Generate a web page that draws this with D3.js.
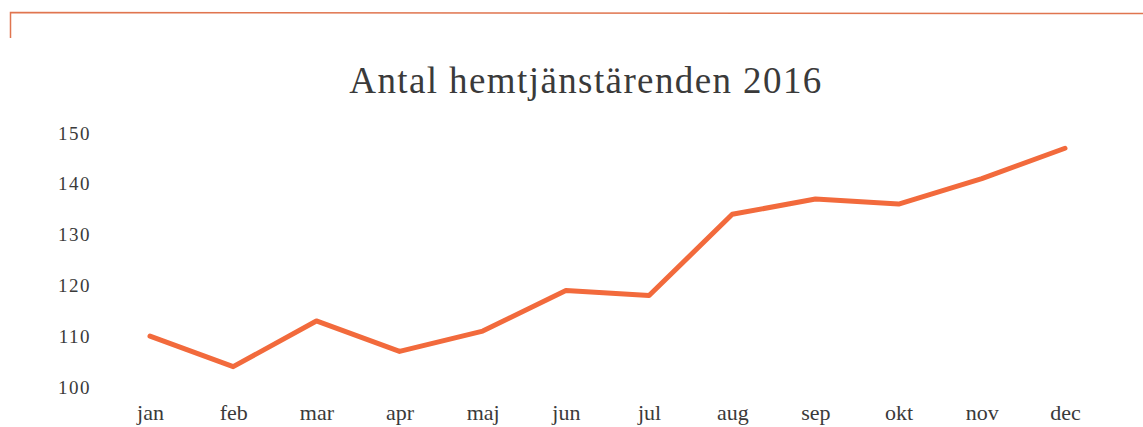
<!DOCTYPE html>
<html><head><meta charset="utf-8">
<script src="https://cdn.jsdelivr.net/npm/d3@7"></script>
<style>body{margin:0;background:#fff}svg{display:block}</style>
</head><body>
<svg id="c" width="1143" height="427"></svg>
<script>
const months = ["jan","feb","mar","apr","maj","jun","jul","aug","sep","okt","nov","dec"];
const values = [110,104,113,107,111,119,118,134,137,136,141,147];
const yTicks = [100,110,120,130,140,150];
const title = "Antal hemtjänstärenden 2016";

const svg = d3.select("#c");
const font = "'Liberation Serif', 'DejaVu Serif', serif";

// frame lines
svg.append("path").attr("d","M10.5,38 L10.5,12.5 L1143,13.5")
  .attr("fill","none").attr("stroke","#e0754f").attr("stroke-width",1.5);

const x = d3.scalePoint().domain(months).range([150,1065]);
const y = d3.scaleLinear().domain([100,150]).range([387,133]);

svg.append("text").attr("x",586).attr("y",93).attr("text-anchor","middle")
  .attr("font-family",font).attr("font-size",37).attr("letter-spacing","1.4px")
  .attr("fill","#3a3a3a").text(title);

const ya = svg.append("g").attr("transform","translate(91,0)")
  .call(d3.axisLeft(y).tickValues(yTicks).tickSize(0).tickPadding(0));
ya.select(".domain").remove();
ya.selectAll("text").attr("font-family",font).attr("font-size",19).attr("letter-spacing","1.5px")
  .attr("fill","#3a3a3a").attr("dy","0.32em");

const xa = svg.append("g").attr("transform","translate(0,401)")
  .call(d3.axisBottom(x).tickSize(0).tickPadding(0));
xa.select(".domain").remove();
xa.selectAll("text").attr("font-family",font).attr("font-size",22).attr("fill","#3a3a3a").attr("dy","0.85em");

const line = d3.line().x((d,i)=>x(months[i])).y(d=>y(d));
svg.append("path").datum(values).attr("d",line).attr("fill","none")
  .attr("stroke","#f26a3c").attr("stroke-width",5).attr("stroke-linejoin","round").attr("stroke-linecap","round");
</script>
</body></html>
